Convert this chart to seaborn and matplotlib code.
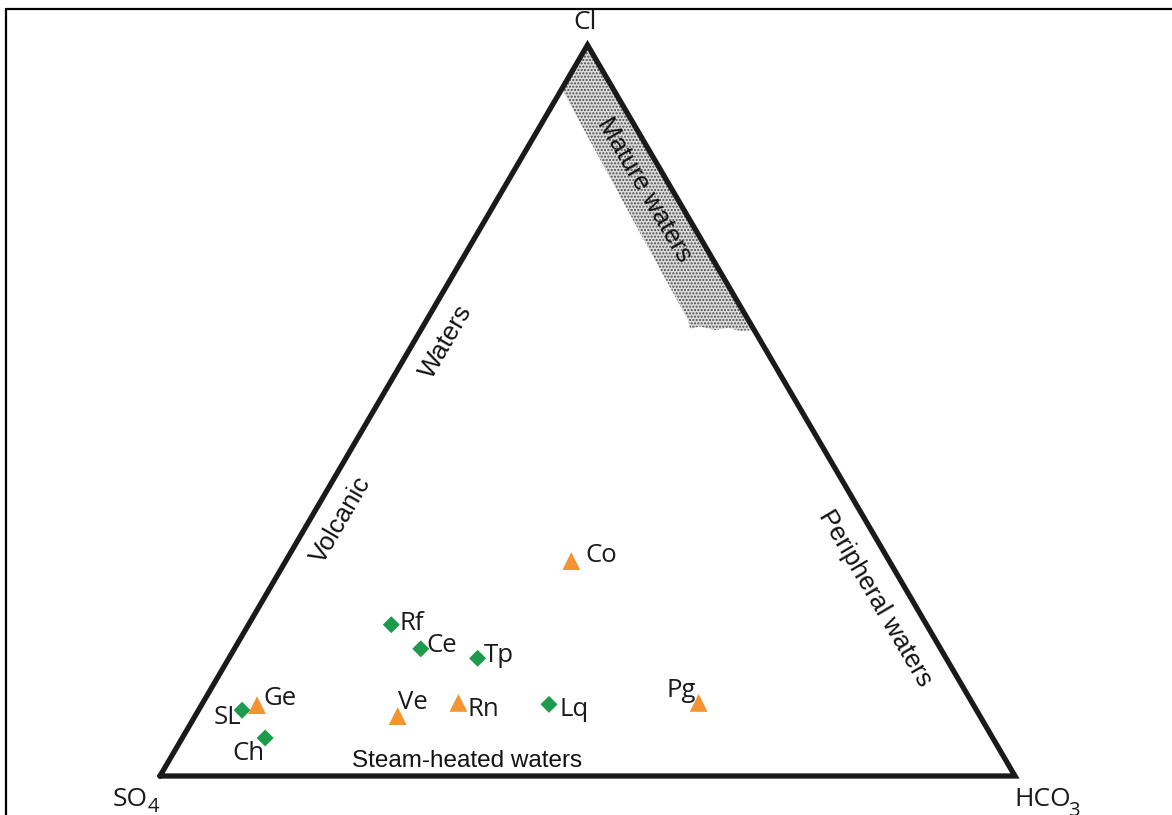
import numpy as np
import pandas as pd
import matplotlib
matplotlib.use("Agg")
import matplotlib.pyplot as plt
from matplotlib.lines import Line2D
from matplotlib.patches import Polygon
import seaborn as sns

# Sample composition (percent of Cl, SO4, HCO3)
samples = ["Co", "Rf", "Ce", "Tp", "Lq", "Rn", "Ve", "Pg", "SL", "Ge", "Ch"]
cl_pct = [29.4, 20.7, 17.4, 16.1, 9.8, 10.0, 8.2, 10.0, 9.0, 9.7, 5.2]
hco3_pct = [33.4, 16.7, 21.8, 29.1, 40.6, 29.9, 23.7, 58.0, 5.1, 6.5, 9.7]
so4_pct = [100 - c - h for c, h in zip(cl_pct, hco3_pct)]
groups = ["Group 2", "Group 1", "Group 1", "Group 1", "Group 1", "Group 2",
          "Group 2", "Group 2", "Group 1", "Group 2", "Group 1"]

# Outline of the mature-waters field (percent Cl, HCO3)
mature_cl = [100.0, 61.0, 60.9, 61.3, 61.0, 61.5, 61.2, 62.4, 74.4, 84.3, 93.8, 94.1]
mature_hco3 = [0.0, 39.0, 37.4, 35.8, 34.4, 32.4, 31.4, 30.55, 18.9, 9.35, 0.2, 0.0]

W, H = 1172, 815


def tern_xy(cl, hco3):
    cl = np.asarray(cl, float)
    hco3 = np.asarray(hco3, float)
    return hco3 + cl / 2.0, cl


def fpos(px, py):
    return px / W, 1 - py / H


sns.set_theme(style="white")
plt.rcParams["font.family"] = ["Open Sans", "DejaVu Sans"]
plt.rcParams["hatch.linewidth"] = 1.0

fig = plt.figure(figsize=(W / 100, H / 100), dpi=100)
fig.patch.set_facecolor("white")
ax = fig.add_axes([160 / W, 39 / H, 855 / W, 731 / H])

# Mature waters field
mx, my = tern_xy(mature_cl, mature_hco3)
ax.add_patch(Polygon(np.column_stack([mx, my]), closed=True,
                     facecolor="#dcdcdc", edgecolor="#4a4a4a", hatch=".....",
                     linewidth=0, zorder=1))

# Triangle frame
tx, ty = tern_xy([0, 0, 100, 0], [0, 100, 0, 0])
ax.plot(tx, ty, color="#1a1a1a", lw=3.8, solid_joinstyle="miter",
        clip_on=False, zorder=3)

# Samples
px_, py_ = tern_xy(cl_pct, hco3_pct)
df = pd.DataFrame({"x": px_, "y": py_, "sample": samples, "group": groups})
sns.scatterplot(data=df, x="x", y="y", hue="group", style="group", size="group",
                palette={"Group 1": "#1c9b4c", "Group 2": "#f39431"},
                markers={"Group 1": "D", "Group 2": "^"},
                sizes={"Group 1": 75, "Group 2": 165},
                linewidth=0, legend=False, ax=ax, zorder=4, clip_on=False)
ax.set_xlim(0, 100)
ax.set_ylim(0, 100)
ax.axis("off")

# Sample labels: offset in pixels from each point, with alignment
label_offsets = {
    "Co": (14, -1, "left"), "Rf": (8, -5, "left"), "Ce": (5.5, -3.3, "left"),
    "Tp": (6, -3.4, "left"), "Lq": (10, -11.7, "left"), "Rn": (9, -13.3, "left"),
    "Ve": (0.0, 7.4, "left"), "Pg": (-32, 5.8, "left"), "SL": (-1, -13.3, "right"),
    "Ge": (6, 0, "left"), "Ch": (-32.7, -22, "left"),
}
for name, x, y in zip(samples, px_, py_):
    dx, dy, ha = label_offsets[name]
    ax.annotate(name, (x, y), xytext=(dx, dy), textcoords="offset pixels",
                ha=ha, va="baseline", fontsize=18.5, color="#1a1a1a", zorder=5)

# Field names
field_font = ["Liberation Sans", "DejaVu Sans"]
fig.text(*fpos(341, 520), "Volcanic", rotation=59.8, ha="center", va="center",
         rotation_mode="anchor", fontsize=18.5, family=field_font, color="#111111")
fig.text(*fpos(446, 342), "Waters", rotation=59.8, ha="center", va="center",
         rotation_mode="anchor", fontsize=18.5, family=field_font, color="#111111")
fig.text(*fpos(644, 190), "Mature waters", rotation=-59.5, ha="center", va="center",
         rotation_mode="anchor", fontsize=18.5, family=field_font, color="#111111")
fig.text(*fpos(875, 598), "Peripheral waters", rotation=-59.5, ha="center",
         va="center", rotation_mode="anchor", fontsize=18.5, family=field_font,
         color="#111111")
fig.text(*fpos(467.5, 767), "Steam-heated waters", ha="center", va="baseline",
         fontsize=17.5, family=field_font, color="#111111")

# Apex labels (subscripts set as separate, lowered text)
fig.text(*fpos(585, 29), "Cl", ha="center", va="baseline", fontsize=19,
         color="#1a1a1a")
fig.text(*fpos(113, 806), "SO", ha="left", va="baseline", fontsize=19,
         color="#1a1a1a")
fig.text(*fpos(148, 812), "4", ha="left", va="baseline", fontsize=14.5,
         color="#1a1a1a")
fig.text(*fpos(1014, 806), "HCO", ha="left", va="baseline", fontsize=19,
         color="#1a1a1a")
fig.text(*fpos(1068, 816), "3", ha="left", va="baseline", fontsize=14.5,
         color="#1a1a1a")

# Open frame on the left and top
fig.add_artist(Line2D([6 / W, 6 / W], [0, 1 - 9 / H], transform=fig.transFigure,
                      color="black", lw=1.6))
fig.add_artist(Line2D([6 / W, 1], [1 - 9 / H, 1 - 9 / H], transform=fig.transFigure,
                      color="black", lw=1.6))

fig.savefig("out.png", dpi=100, facecolor="white")
